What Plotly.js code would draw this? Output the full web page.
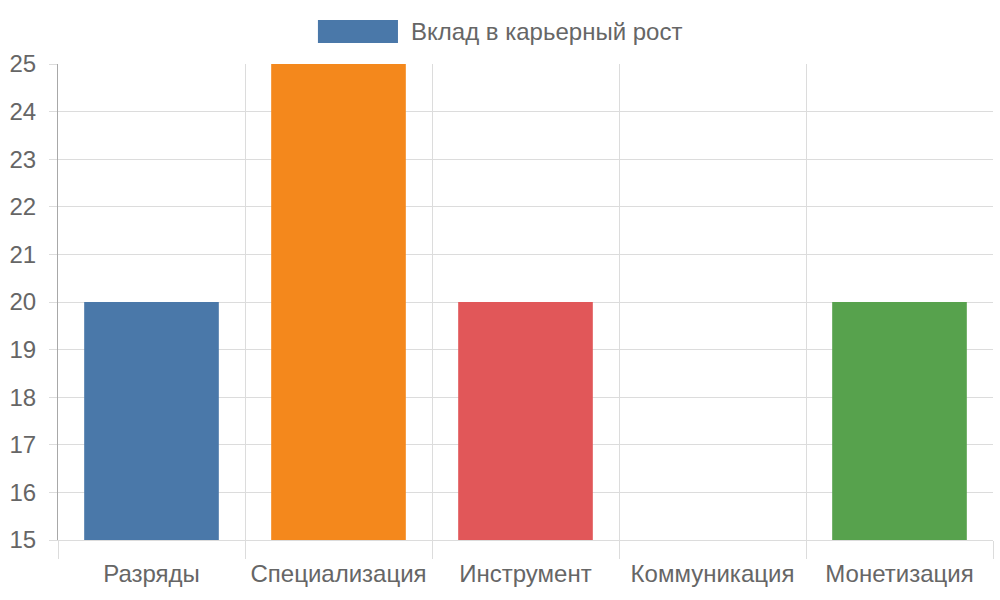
<!DOCTYPE html>
<html>
<head>
<meta charset="utf-8">
<script src="https://cdn.plot.ly/plotly-3.0.1.min.js"></script>
<style>
  html, body { margin: 0; padding: 0; background: #fff; }
  #chart { width: 1000px; height: 600px; }
</style>
</head>
<body>
<div id="chart"></div>
<script>
// data
const categories = ['Разряды', 'Специализация', 'Инструмент', 'Коммуникация', 'Монетизация'];
const values = [20, 25, 20, 15, 20];
const barColors = ['#4a78a9', '#f4881c', '#e15759', '#8cd17d', '#57a24d'];
const seriesName = 'Вклад в карьерный рост';
const yTicks = [15, 16, 17, 18, 19, 20, 21, 22, 23, 24, 25];

const font = '"Liberation Sans", Arial, sans-serif';
const textColor = '#666';

const trace = {
  type: 'bar',
  x: categories,
  y: values,
  name: seriesName,
  width: 0.72,
  marker: { color: barColors, line: { width: 0 } },
  hoverinfo: 'x+y',
  showlegend: false
};

const layout = {
  width: 1000,
  height: 600,
  margin: { l: 58, r: 7, t: 64, b: 60, pad: 0 },
  paper_bgcolor: '#fff',
  plot_bgcolor: '#fff',
  font: { family: font, size: 24, color: textColor },
  xaxis: {
    type: 'category',
    range: [-0.5, 4.5],
    tickson: 'boundaries',
    ticks: 'outside',
    ticklen: 18,
    tickcolor: '#dcdcdc',
    tickwidth: 1,
    ticklabelstandoff: 12,
    showgrid: true,
    gridcolor: '#dcdcdc',
    gridwidth: 1,
    showline: true,
    linecolor: '#dcdcdc',
    tickfont: { family: font, size: 24, color: textColor },
    fixedrange: true
  },
  yaxis: {
    range: [15, 25],
    tickvals: yTicks,
    ticks: 'outside',
    ticklen: 8,
    tickcolor: '#dcdcdc',
    ticklabelstandoff: 8,
    showgrid: true,
    gridcolor: '#dcdcdc',
    gridwidth: 1,
    zeroline: false,
    showline: true,
    linecolor: '#a8a8a8',
    tickfont: { family: font, size: 24, color: textColor },
    fixedrange: true
  },
  shapes: [{
    type: 'rect', xref: 'paper', yref: 'paper',
    x0: 0.278, x1: 0.3636, y0: 1.0441, y1: 1.0924,
    fillcolor: barColors[0], line: { width: 0 }
  }],
  annotations: [{
    xref: 'paper', yref: 'paper',
    x: 0.3755, y: 1.0683, xanchor: 'left', yanchor: 'middle',
    text: seriesName, showarrow: false,
    font: { family: font, size: 24, color: textColor }
  }],
  showlegend: false
};

Plotly.newPlot('chart', [trace], layout, { staticPlot: true, displayModeBar: false });
</script>
</body>
</html>
